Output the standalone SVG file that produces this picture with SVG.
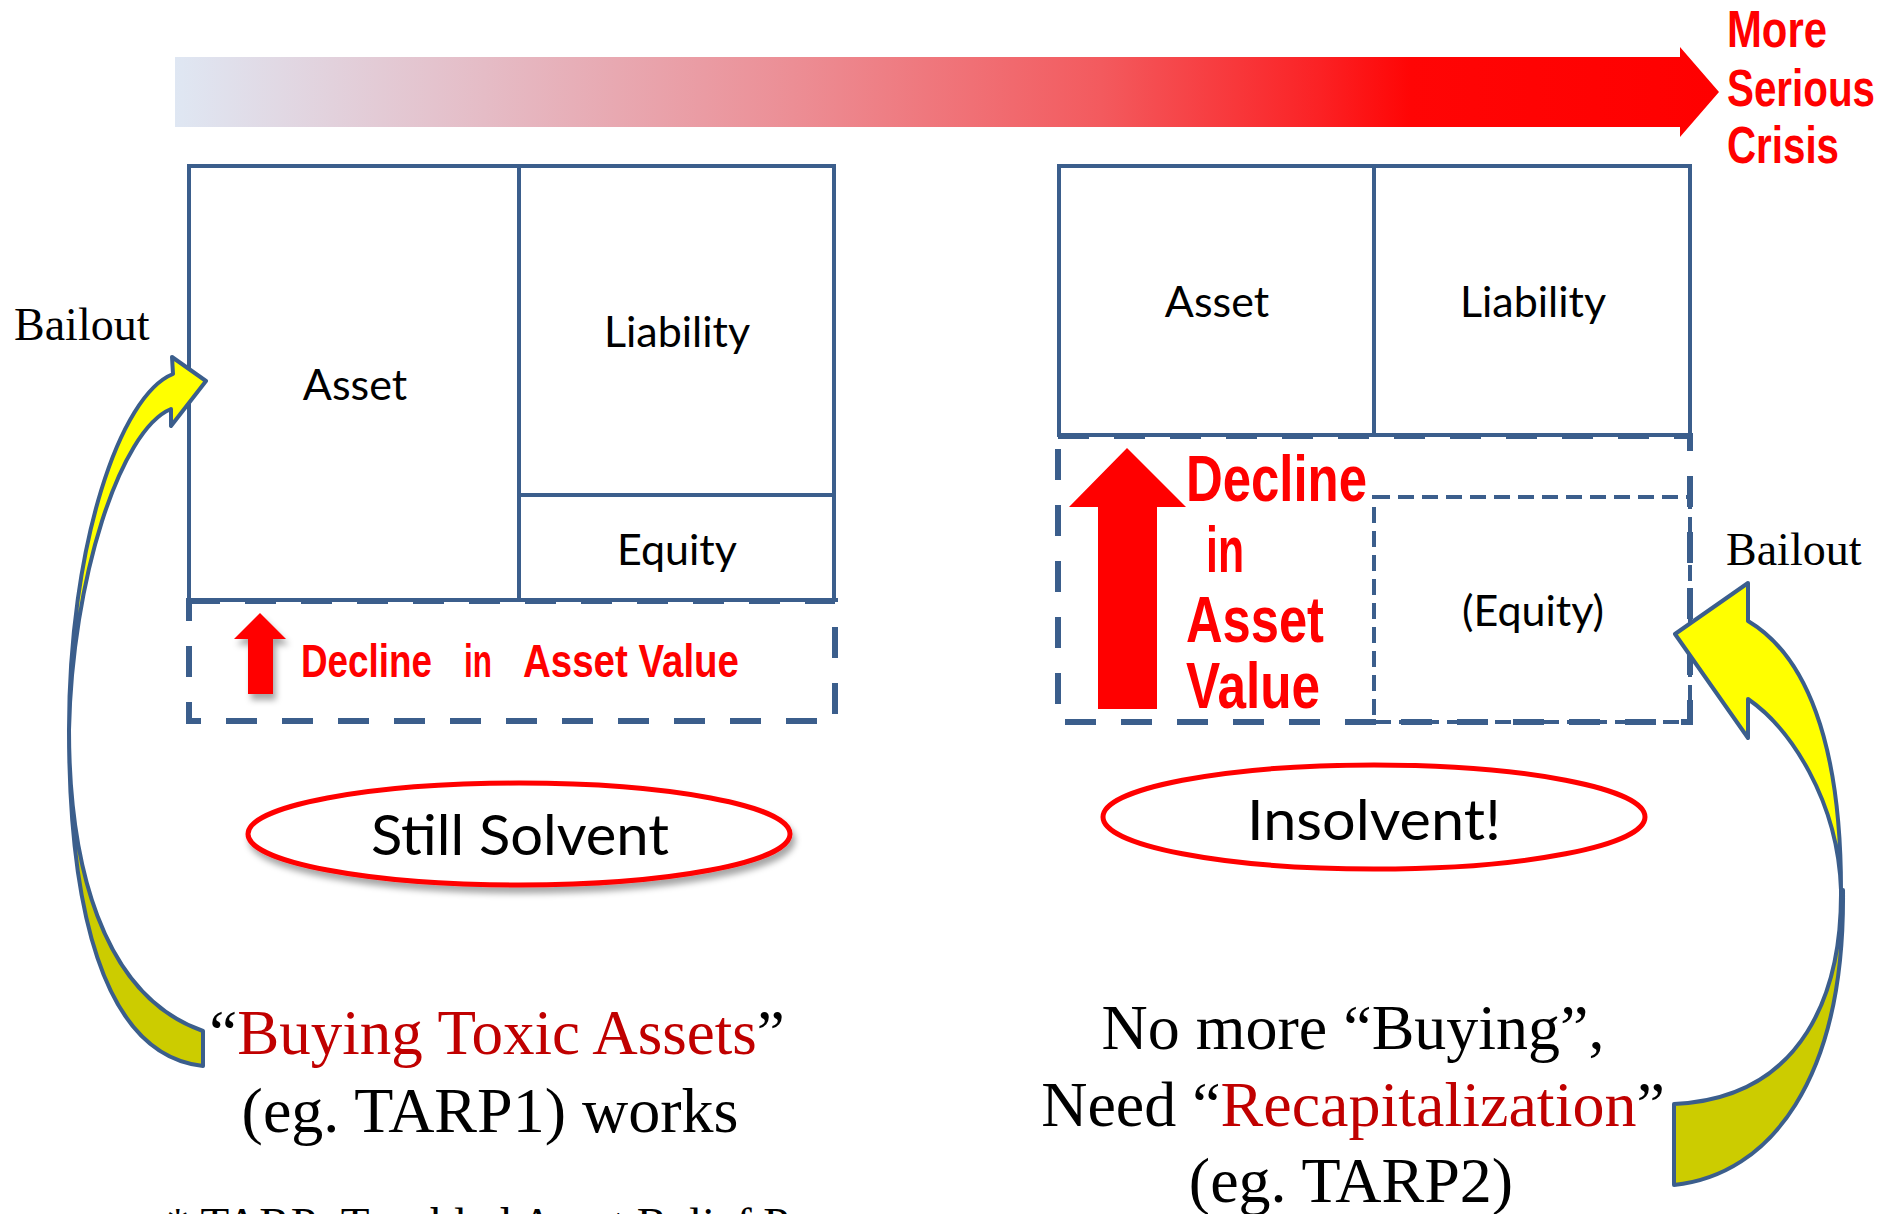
<svg xmlns="http://www.w3.org/2000/svg" width="1885" height="1214" viewBox="0 0 1885 1214">
<defs>
<linearGradient id="crisis" gradientUnits="userSpaceOnUse" x1="175" y1="0" x2="1719" y2="0">
<stop offset="0" stop-color="#dfe7f3"/>
<stop offset="0.2" stop-color="#e5bcc6"/>
<stop offset="0.4" stop-color="#ec8e95"/>
<stop offset="0.6" stop-color="#f35a5e"/>
<stop offset="0.74" stop-color="#fb2225"/>
<stop offset="0.8" stop-color="#ff0505"/>
<stop offset="1" stop-color="#ff0000"/>
</linearGradient>
<filter id="shadow" x="-20%" y="-20%" width="140%" height="160%">
<feDropShadow dx="3" dy="6" stdDeviation="3" flood-color="#000" flood-opacity="0.35"/>
</filter>
</defs>
<style>
.box{fill:none;stroke:#3b5e8c;stroke-width:4}
.dash{fill:none;stroke:#3b5e8c;stroke-width:6;stroke-dasharray:31 25}
.dash2{fill:none;stroke:#3b5e8c;stroke-width:4;stroke-dasharray:16 8}
.lbl{font-family:Lato,"Open Sans","Liberation Sans",sans-serif;font-size:43px;fill:#000;text-anchor:middle}
.big{font-family:Lato,"Open Sans","Liberation Sans",sans-serif;font-size:57px;fill:#000;text-anchor:middle}
.red{font-family:"Liberation Sans Narrow","Liberation Sans",Arial,sans-serif;font-weight:bold;fill:#ff0000}
.tnr{font-family:"Liberation Serif","Times New Roman",serif;fill:#000}
.dr{fill:#c00000}
.oval{fill:#fff;stroke:#ff0000;stroke-width:5}
.yel{fill:#ffff00;stroke:#3b5e8c;stroke-width:4;stroke-linejoin:round}
.olv{fill:#cccc00;stroke:#3b5e8c;stroke-width:4;stroke-linejoin:round}
</style>
<rect width="1885" height="1214" fill="#fff"/>

<g id="crisis-arrow">
<path d="M175,57 L1680,57 L1680,47 L1719,92 L1680,137 L1680,127 L175,127 Z" fill="url(#crisis)"/>
<text class="red" font-size="52"><tspan x="1727" y="47" textLength="100" lengthAdjust="spacingAndGlyphs">More</tspan><tspan x="1727" y="106" textLength="148" lengthAdjust="spacingAndGlyphs">Serious</tspan><tspan x="1727" y="163" textLength="112" lengthAdjust="spacingAndGlyphs">Crisis</tspan></text>
</g>

<g id="left-balance">
<rect class="box" x="189" y="166" width="645" height="434"/>
<line class="box" x1="519" y1="166" x2="519" y2="600"/>
<line class="box" x1="519" y1="495" x2="834" y2="495"/>
<text class="lbl" x="355" y="400">Asset</text>
<text class="lbl" x="677" y="347">Liability</text>
<text class="lbl" x="677" y="565">Equity</text>
</g>

<g id="left-decline">
<rect class="dash" x="189" y="601" width="646" height="120"/>
<path d="M260,613 L286,639 L273,639 L273,694 L248,694 L248,639 L234,639 Z" fill="#ff0000" filter="url(#shadow)"/>
<text class="red" font-size="47" x="301" y="677" textLength="131" lengthAdjust="spacingAndGlyphs">Decline</text>
<text class="red" font-size="47" x="464" y="677" textLength="28" lengthAdjust="spacingAndGlyphs">in</text>
<text class="red" font-size="47" x="523" y="677" textLength="216" lengthAdjust="spacingAndGlyphs">Asset Value</text>
</g>

<g id="still-solvent">
<ellipse class="oval" cx="519" cy="834" rx="271" ry="51" filter="url(#shadow)"/>
<text class="big" x="520" y="855" textLength="298" lengthAdjust="spacingAndGlyphs">Still Solvent</text>
</g>

<g id="right-balance">
<rect class="box" x="1059" y="166" width="631" height="269"/>
<line class="box" x1="1374" y1="166" x2="1374" y2="435"/>
<text class="lbl" x="1217" y="317">Asset</text>
<text class="lbl" x="1533" y="317">Liability</text>
</g>

<g id="right-decline">
<rect class="dash" x="1058" y="436" width="632" height="286"/>
<rect class="dash2" x="1374" y="497" width="316" height="225"/>
<text class="lbl" x="1533" y="626">(Equity)</text>
<path d="M1127,448 L1186,507 L1157,507 L1157,709 L1098,709 L1098,507 L1069,507 Z" fill="#ff0000"/>
<text class="red" font-size="65"><tspan x="1186" y="501" textLength="181" lengthAdjust="spacingAndGlyphs">Decline</tspan><tspan x="1206" y="572" textLength="38" lengthAdjust="spacingAndGlyphs">in</tspan><tspan x="1186" y="642" textLength="138" lengthAdjust="spacingAndGlyphs">Asset</tspan><tspan x="1186" y="708" textLength="134" lengthAdjust="spacingAndGlyphs">Value</tspan></text>
</g>

<g id="insolvent">
<ellipse class="oval" cx="1374" cy="817" rx="271" ry="52"/>
<text class="big" x="1374" y="840" textLength="254" lengthAdjust="spacingAndGlyphs">Insolvent!</text>
</g>

<g id="connectors">
<g id="left-bailout-arrow">
<path class="olv" d="M69,730 C69,900 100,1055 203,1066 L203,1031 C100,995 69,860 69,730 Z"/>
<path class="yel" d="M173,374 L172,357 L206,381 L171,426 L171,409 C120,430 72,580 69,730 C69,545 120,395 173,374 Z"/>
</g>
<g id="right-bailout-arrow">
<path class="olv" d="M1841,890 C1842,990 1805,1098 1674,1104 L1674,1185 C1770,1175 1845,1080 1843,890 Z"/>
<path class="yel" d="M1748,621 L1748,583 L1675,634 L1748,738 L1748,699 C1790,728 1838,800 1841,890 C1841,740 1805,655 1748,621 Z"/>
</g>
</g>

<g id="labels">
<text class="tnr" x="14" y="340" font-size="46">Bailout</text>
<text class="tnr" x="1726" y="565" font-size="46">Bailout</text>
<text class="tnr" x="497" y="1054" font-size="63" text-anchor="middle">“<tspan class="dr">Buying Toxic Assets</tspan>”</text>
<text class="tnr" x="490" y="1132" font-size="64" text-anchor="middle">(eg. TARP1) works</text>
<text class="tnr" x="1353" y="1049" font-size="64" text-anchor="middle">No more “Buying”,</text>
<text class="tnr" x="1353" y="1126" font-size="64" text-anchor="middle">Need “<tspan class="dr">Recapitalization</tspan>”</text>
<text class="tnr" x="1351" y="1202" font-size="64" text-anchor="middle">(eg. TARP2)</text>
<text class="tnr" x="166" y="1240" font-size="47">* TARP: Troubled Asset Relief Program</text>
</g>
</svg>
